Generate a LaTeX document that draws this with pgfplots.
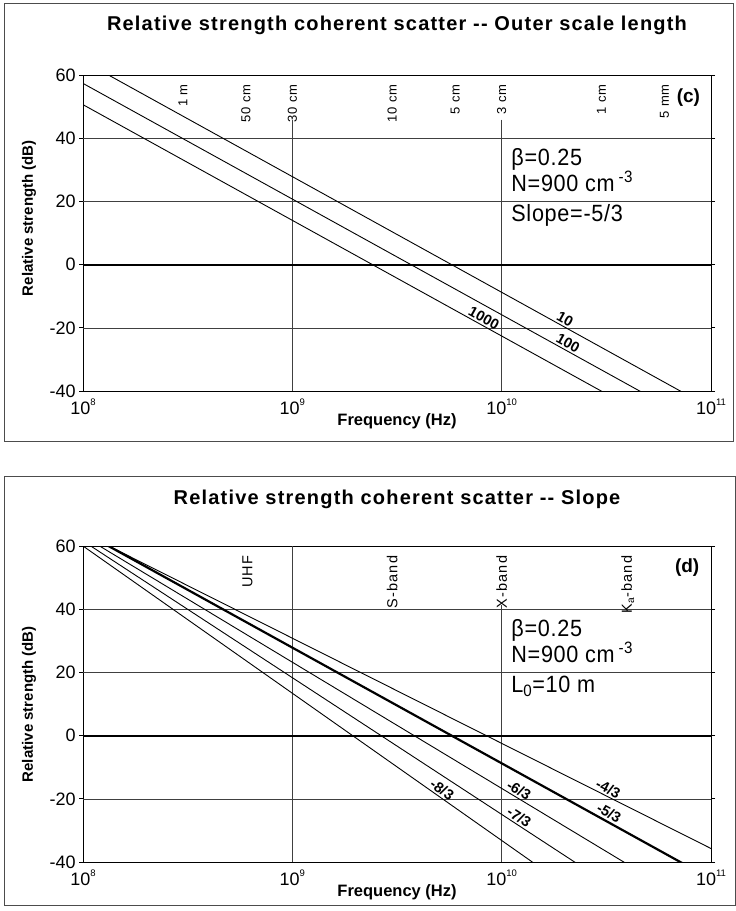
\documentclass[border=0pt]{standalone}
\usepackage{fontspec}
\setmainfont{Liberation Sans}
\newfontfamily\spaced[LetterSpace=8]{Liberation Sans}
\newfontfamily\titlefont[LetterSpace=6]{Liberation Sans}
\newfontfamily\infofont[FakeStretch=0.92, LetterSpace=3]{Liberation Sans}
\usepackage{pgfplots}
\pgfplotsset{compat=1.18}
\newcommand\sups[1]{\raisebox{1.0ex}{\fontsize{9.5bp}{10bp}\selectfont #1}}
\newcommand\lblf{\bfseries\fontsize{14.5bp}{15bp}\selectfont}
\newcommand\wlf{\spaced\fontsize{13bp}{13bp}\selectfont}
\newcommand\bandf{\spaced\fontsize{14.5bp}{15bp}\selectfont}
\newcommand\infof{\infofont\fontsize{23.5bp}{25bp}\selectfont}
\newcommand\ttlf{\titlefont\bfseries\fontsize{20bp}{22bp}\selectfont}
\begin{document}
\begin{tikzpicture}
\useasboundingbox (0,0) rectangle (736bp,911bp);
\fill[white] (0,0) rectangle (736bp,911bp);
\draw[line width=0.8bp, black!70] (4bp,470bp) rectangle (733bp,908bp);
\draw[line width=0.8bp, black!70] (4bp,6bp) rectangle (735bp,435bp);
\node[font=\ttlf, anchor=base] at (397bp,880bp) {Relative strength coherent scatter -{}- Outer scale length};
\node[font=\ttlf, anchor=base] at (397bp,406bp) {Relative strength coherent scatter -{}- Slope};

% ---------- panel (c)
\begin{axis}[at={(83bp,520bp)}, anchor=south west,
  width=628bp, height=315.5bp, scale only axis,
  xmode=log, xmin=1e8, xmax=1e11, ymin=-40, ymax=60,
  xtick={1e8,1e9,1e10,1e11},
  xticklabels={10\sups{8},10\sups{9},10\sups{10},10\sups{11}},
  ytick={-40,-20,0,20,40,60},
  major tick length=4bp,
  tick align=outside,
  xtick style={draw=none},
  ytick style={line width=0.8bp, black},
  tick label style={font=\fontsize{18bp}{20bp}\selectfont},
  axis line style={line width=0.9bp},
  xlabel={Frequency (Hz)},
  ylabel={Relative strength (dB)},
  xlabel style={font=\bfseries\fontsize{16.5bp}{18bp}\selectfont, at={(axis description cs:0.5,0)}, anchor=center, yshift=-30bp},
  ylabel style={font=\bfseries\fontsize{15bp}{18bp}\selectfont, anchor=center, at={(axis description cs:-0.086,0.548)}},
  /pgf/number format/assume math mode=true]
\addplot[line width=0.7bp, black!75] coordinates {(1e8,40) (1e11,40)};
\addplot[line width=0.7bp, black!75] coordinates {(1e8,20) (1e11,20)};
\addplot[line width=0.7bp, black!75] coordinates {(1e8,-20) (1e11,-20)};
\addplot[line width=0.7bp, black!75] coordinates {(1e9,46) (1e9,-40)};
\addplot[line width=0.7bp, black!75] coordinates {(1e10,46) (1e10,-40)};
\addplot[line width=2.4bp, black] coordinates {(1e8,0) (1e11,0)};
\addplot[line width=0.9bp, black] coordinates {(1e8,64.61) (1e11,-45.39)} node[pos=0.762, sloped, above, inner sep=1.5bp, font=\lblf] {10};
\addplot[line width=0.9bp, black] coordinates {(1e8,57.49) (1e11,-52.51)} node[pos=0.767, sloped, above, inner sep=1.5bp, font=\lblf] {100};
\addplot[line width=0.9bp, black] coordinates {(1e8,50.75) (1e11,-59.25)} node[pos=0.633, sloped, above, inner sep=1.5bp, font=\lblf] {1000};
\node[rotate=90, anchor=east, inner sep=0pt, font=\wlf] at (axis cs:3e8,57.3) {1 m};
\node[rotate=90, anchor=east, inner sep=0pt, font=\wlf] at (axis cs:6e8,57.3) {50 cm};
\node[rotate=90, anchor=east, inner sep=0pt, font=\wlf] at (axis cs:1e9,57.3) {30 cm};
\node[rotate=90, anchor=east, inner sep=0pt, font=\wlf] at (axis cs:3e9,57.3) {10 cm};
\node[rotate=90, anchor=east, inner sep=0pt, font=\wlf] at (axis cs:6e9,57.3) {5 cm};
\node[rotate=90, anchor=east, inner sep=0pt, font=\wlf] at (axis cs:1e10,57.3) {3 cm};
\node[rotate=90, anchor=east, inner sep=0pt, font=\wlf] at (axis cs:3e10,57.3) {1 cm};
\node[rotate=90, anchor=east, inner sep=0pt, font=\wlf] at (axis cs:6e10,57.3) {5 mm};
\node[font=\bfseries\fontsize{19bp}{20bp}\selectfont] at (rel axis cs:0.964,0.93) {(c)};
\node[anchor=base west, inner sep=0pt, font=\infof] at (axis cs:1.11e10,31.4) {β=0.25};
\node[anchor=base west, inner sep=0pt, font=\infof] at (axis cs:1.11e10,23.2) {N=900 cm\,\textsuperscript{-3}};
\node[anchor=base west, inner sep=0pt, font=\infof] at (axis cs:1.11e10,13.7) {Slope=-5/3};
\end{axis}

% ---------- panel (d)
\begin{axis}[at={(83bp,49bp)}, anchor=south west,
  width=628bp, height=315.5bp, scale only axis,
  xmode=log, xmin=1e8, xmax=1e11, ymin=-40, ymax=60,
  xtick={1e8,1e9,1e10,1e11},
  xticklabels={10\sups{8},10\sups{9},10\sups{10},10\sups{11}},
  ytick={-40,-20,0,20,40,60},
  major tick length=4bp,
  tick align=outside,
  xtick style={draw=none},
  ytick style={line width=0.8bp, black},
  tick label style={font=\fontsize{18bp}{20bp}\selectfont},
  axis line style={line width=0.9bp},
  xlabel={Frequency (Hz)},
  ylabel={Relative strength (dB)},
  xlabel style={font=\bfseries\fontsize{16.5bp}{18bp}\selectfont, at={(axis description cs:0.5,0)}, anchor=center, yshift=-30bp},
  ylabel style={font=\bfseries\fontsize{15bp}{18bp}\selectfont, anchor=center, at={(axis description cs:-0.086,0.5)}},
  /pgf/number format/assume math mode=true]
\addplot[line width=0.7bp, black!75] coordinates {(1e8,40) (1e11,40)};
\addplot[line width=0.7bp, black!75] coordinates {(1e8,20) (1e11,20)};
\addplot[line width=0.7bp, black!75] coordinates {(1e8,-20) (1e11,-20)};
\addplot[line width=0.7bp, black!75] coordinates {(1e9,60) (1e9,-40)};
\addplot[line width=0.7bp, black!75] coordinates {(1e10,41.5) (1e10,-40)};
\addplot[line width=2.4bp, black] coordinates {(1e8,0) (1e11,0)};
\addplot[line width=0.9bp, black] coordinates {(1e8,64.27) (1e11,-35.73)} node[pos=0.831, sloped, above, inner sep=1.5bp, font=\lblf] {-4/3};
\addplot[line width=2.2bp, black] coordinates {(1e8,64.61) (1e11,-45.39)} node[pos=0.831, sloped, above, inner sep=2bp, font=\lblf] {-5/3};
\addplot[line width=0.9bp, black] coordinates {(1e8,63.32) (1e11,-56.68)} node[pos=0.688, sloped, above, inner sep=1.5bp, font=\lblf] {-6/3};
\addplot[line width=0.9bp, black] coordinates {(1e8,61.75) (1e11,-68.25)} node[pos=0.688, sloped, above, inner sep=1.5bp, font=\lblf] {-7/3};
\addplot[line width=0.9bp, black] coordinates {(1e8,60.15) (1e11,-79.85)} node[pos=0.565, sloped, above, inner sep=1.5bp, font=\lblf] {-8/3};
\node[rotate=90, anchor=east, inner sep=0pt, font=\bandf] at (axis cs:6.1e8,57.1) {UHF};
\node[rotate=90, anchor=east, inner sep=0pt, font=\bandf] at (axis cs:3e9,57.1) {S-band};
\node[rotate=90, anchor=east, inner sep=0pt, font=\bandf] at (axis cs:1e10,57.1) {X-band};
\node[rotate=90, anchor=east, inner sep=0pt, font=\bandf] at (axis cs:4e10,57.1) {K\textsubscript{a}-band};
\node[font=\bfseries\fontsize{19bp}{20bp}\selectfont] at (rel axis cs:0.962,0.933) {(d)};
\node[anchor=base west, inner sep=0pt, font=\infof] at (axis cs:1.11e10,31.4) {β=0.25};
\node[anchor=base west, inner sep=0pt, font=\infof] at (axis cs:1.11e10,23.2) {N=900 cm\,\textsuperscript{-3}};
\node[anchor=base west, inner sep=0pt, font=\infof] at (axis cs:1.11e10,13.7) {L\textsubscript{0}=10 m};
\end{axis}
\end{tikzpicture}
\end{document}
